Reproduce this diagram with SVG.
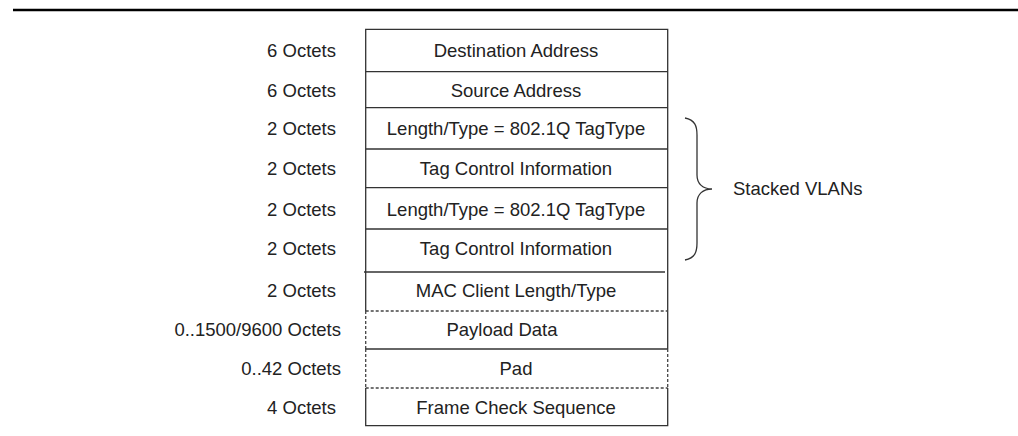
<svg xmlns="http://www.w3.org/2000/svg" width="1018" height="436" viewBox="0 0 1018 436">
<style>
.t{font-family:"Liberation Sans",Arial,sans-serif;font-size:18.5px;fill:#222}
.c{text-anchor:middle}
.r{text-anchor:end}
.s{stroke:#333;stroke-width:1.3;fill:none}
.d{stroke:#444;stroke-width:1.3;fill:none;stroke-dasharray:3 2}
</style>
<rect width="1018" height="436" fill="#fff"/>
<line x1="13" y1="10" x2="1018" y2="10" stroke="#000" stroke-width="2.4"/>
<g id="frame">
<path class="s" d="M365.7,311 V29.3 H667.7 V349"/>
<line class="s" x1="365.7" y1="71.7" x2="667.7" y2="71.7"/>
<line class="s" x1="365.7" y1="107.7" x2="667.7" y2="107.7"/>
<line class="s" x1="365.7" y1="149" x2="667.7" y2="149"/>
<line class="s" x1="365.7" y1="187.7" x2="667.7" y2="187.7"/>
<line class="s" x1="365.7" y1="229" x2="667.7" y2="229"/>
<line class="s" x1="364" y1="272" x2="665" y2="272"/>
<line class="d" x1="365.7" y1="311" x2="667.7" y2="311"/>
<line class="d" x1="365.7" y1="311" x2="365.7" y2="349"/>
<line class="s" x1="365.7" y1="349" x2="667.7" y2="349"/>
<line class="d" x1="365.7" y1="349" x2="365.7" y2="388"/>
<line class="d" x1="667.7" y1="349" x2="667.7" y2="388"/>
<line class="d" x1="365.7" y1="388" x2="667.7" y2="388"/>
<path class="s" d="M365.7,388 V425.7 H667.7 V388"/>
</g>
<g id="fields">
<text class="t c" x="516" y="56.5">Destination Address</text>
<text class="t c" x="516" y="96.5">Source Address</text>
<text class="t c" x="516" y="135">Length/Type = 802.1Q TagType</text>
<text class="t c" x="516" y="175">Tag Control Information</text>
<text class="t c" x="516" y="216">Length/Type = 802.1Q TagType</text>
<text class="t c" x="516" y="255">Tag Control Information</text>
<text class="t c" x="516" y="297.3">MAC Client Length/Type</text>
<text class="t c" x="502" y="336">Payload Data</text>
<text class="t c" x="516" y="375">Pad</text>
<text class="t c" x="516" y="414.3">Frame Check Sequence</text>
</g>
<g id="sizes">
<text class="t r" x="336" y="56.5">6 Octets</text>
<text class="t r" x="336" y="96.5">6 Octets</text>
<text class="t r" x="336" y="135">2 Octets</text>
<text class="t r" x="336" y="175">2 Octets</text>
<text class="t r" x="336" y="216">2 Octets</text>
<text class="t r" x="336" y="255">2 Octets</text>
<text class="t r" x="336" y="297.3">2 Octets</text>
<text class="t r" x="341" y="336">0..1500/9600 Octets</text>
<text class="t r" x="341" y="375">0..42 Octets</text>
<text class="t r" x="336" y="414.3">4 Octets</text>
</g>
<g id="brace">
<path class="s" d="M685,118 C695,120 697,126 697,135 L697,175 C697,184 703,189 712,189 C703,189 697,194 697,203 L697,243 C697,252 695,258 685,260"/>
<text class="t" x="733" y="195">Stacked VLANs</text>
</g>
</svg>
